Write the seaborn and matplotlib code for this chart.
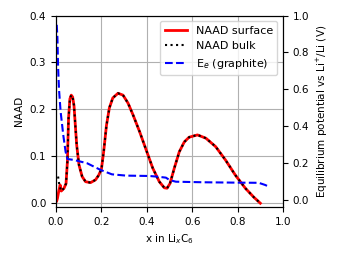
import matplotlib
matplotlib.use("Agg")
import matplotlib.pyplot as plt
import seaborn as sns

# NAAD surface
surf_x = [0.003, 0.006, 0.012, 0.018, 0.023, 0.035, 0.044, 0.050, 0.055, 0.061,
          0.067, 0.073, 0.079, 0.085, 0.091, 0.101, 0.115, 0.130, 0.152, 0.174,
          0.188, 0.200, 0.210, 0.222, 0.235, 0.250, 0.273, 0.295, 0.317, 0.339,
          0.368, 0.397, 0.426, 0.455, 0.477, 0.489, 0.502, 0.521, 0.543, 0.565,
          0.586, 0.623, 0.660, 0.703, 0.747, 0.790, 0.834, 0.871, 0.900]
surf_naad = [0.004, 0.009, 0.025, 0.038, 0.025, 0.031, 0.041, 0.088, 0.180, 0.222,
             0.230, 0.226, 0.208, 0.165, 0.123, 0.081, 0.056, 0.045, 0.043, 0.049,
             0.059, 0.072, 0.110, 0.165, 0.203, 0.224, 0.234, 0.230, 0.213, 0.188,
             0.152, 0.113, 0.074, 0.045, 0.032, 0.031, 0.041, 0.074, 0.109, 0.130,
             0.140, 0.145, 0.138, 0.120, 0.091, 0.059, 0.031, 0.012, -0.001]

# NAAD bulk: differs only at the very start
bulk_start_x = [0.009, 0.012, 0.016, 0.020]
bulk_start_naad = [0.056, 0.045, 0.035, 0.029]
bulk_x = bulk_start_x + surf_x[4:]
bulk_naad = bulk_start_naad + surf_naad[4:]

# Equilibrium potential of graphite
ee_x = [0.003, 0.006, 0.009, 0.013, 0.020, 0.032, 0.042, 0.050, 0.079, 0.137,
        0.196, 0.246, 0.309, 0.411, 0.450, 0.484, 0.500, 0.528, 0.645, 0.790,
        0.893, 0.922, 0.937]
ee_v = [0.95, 0.88, 0.72, 0.60, 0.48, 0.35, 0.262, 0.222, 0.217, 0.199,
        0.163, 0.139, 0.132, 0.130, 0.126, 0.121, 0.108, 0.099, 0.096, 0.094,
        0.093, 0.081, 0.072]

fs = 7.5
plt.rcParams['font.size'] = fs

fig = plt.figure(figsize=(3.46, 2.60), dpi=100)
ax = fig.add_axes([0.162, 0.204, 0.656, 0.736])
ax2 = ax.twinx()

sns.lineplot(x=surf_x, y=surf_naad, ax=ax, color='red', linewidth=2.0,
             label='NAAD surface', legend=False)
sns.lineplot(x=bulk_x, y=bulk_naad, ax=ax, color='black', linewidth=1.5,
             linestyle=':', label='NAAD bulk', legend=False)
sns.lineplot(x=ee_x, y=ee_v, ax=ax2, color='blue', linewidth=1.5,
             linestyle='--', label='E$_e$ (graphite)', legend=False)

ax.set_xlim(0, 1.0)
ax.set_ylim(-0.009, 0.4)
ax2.set_ylim(-0.038, 1.0)
ax.set_xticks([0.0, 0.2, 0.4, 0.6, 0.8, 1.0])
ax.set_yticks([0.0, 0.1, 0.2, 0.3, 0.4])
ax2.set_yticks([0.0, 0.2, 0.4, 0.6, 0.8, 1.0])
ax.grid(True, color='#b0b0b0', linewidth=0.8)
ax2.grid(False)

ax.set_xlabel('x in Li$_x$C$_6$', fontsize=fs)
ax.set_ylabel('NAAD', fontsize=fs)
ax2.set_ylabel('Equilibrium potential vs Li$^{+}$/Li (V)', fontsize=fs)
ax.tick_params(labelsize=fs)
ax2.tick_params(labelsize=fs)

h1, l1 = ax.get_legend_handles_labels()
h2, l2 = ax2.get_legend_handles_labels()
ax2.legend(h1 + h2, l1 + l2, loc='upper right', fontsize=8)

fig.savefig('out.png', dpi=100)
